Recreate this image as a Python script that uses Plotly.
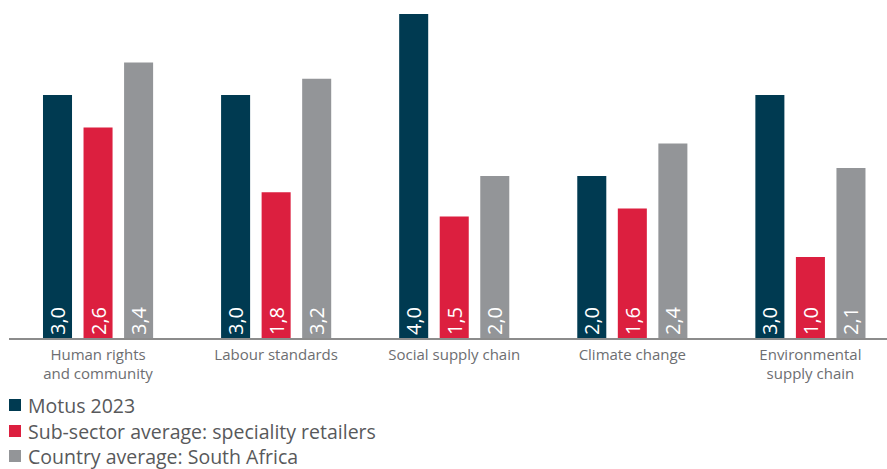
import plotly.graph_objects as go

categories = [
    "Human rights<br>and community",
    "Labour standards",
    "Social supply chain",
    "Climate change",
    "Environmental<br>supply chain",
]
motus_2023 = [3.0, 3.0, 4.0, 2.0, 3.0]
subsector_avg = [2.6, 1.8, 1.5, 1.6, 1.0]
country_avg = [3.4, 3.2, 2.0, 2.4, 2.1]

series_names = [
    "Motus 2023",
    "Sub-sector average: speciality retailers",
    "Country average: South Africa",
]
series_values = [motus_2023, subsector_avg, country_avg]
series_colors = ["#003A51", "#DC1F3F", "#939598"]

FONT = "Open Sans"
W, H = 887, 469
ML, MR, MT, MB = 9, 0, 14, 131

fig = go.Figure()
for name, vals, color in zip(series_names, series_values, series_colors):
    fig.add_trace(go.Bar(
        x=categories,
        y=vals,
        name=name,
        marker=dict(color=color, line=dict(width=0)),
        text=[f"{v:.1f}".replace(".", ",") for v in vals],
        textposition="inside",
        insidetextanchor="start",
        textangle=-90,
        textfont=dict(family=FONT, size=20, color="white"),
        constraintext="none",
        hoverinfo="skip",
        showlegend=False,
    ))

# pixel -> paper helpers for the hand-built legend under the plot
plot_w = W - ML - MR
plot_h = H - MT - MB


def px_x(px):
    return (px - ML) / plot_w


def px_y(py):
    return (H - MB - py) / plot_h


legend_rows = [405, 431, 456]
shapes = []
annotations = []
for name, color, cy in zip(series_names, series_colors, legend_rows):
    shapes.append(dict(
        type="rect", xref="paper", yref="paper",
        x0=px_x(9), x1=px_x(21), y0=px_y(cy + 6), y1=px_y(cy - 6),
        fillcolor=color, line=dict(width=0),
    ))
    annotations.append(dict(
        text=name, xref="paper", yref="paper",
        x=px_x(26), y=px_y(cy), xanchor="left", yanchor="middle",
        showarrow=False,
        font=dict(family=FONT, size=19.5, color="#58595B"),
    ))

fig.update_layout(
    width=W,
    height=H,
    margin=dict(l=ML, r=MR, t=MT, b=MB, autoexpand=False),
    paper_bgcolor="white",
    plot_bgcolor="white",
    barmode="group",
    bargap=0.317,
    bargroupgap=0.284,
    font=dict(family=FONT, color="#58595B"),
    xaxis=dict(
        range=[-0.5, 4.43],
        showgrid=False,
        showline=True,
        linecolor="#8C8C8C",
        linewidth=1.5,
        ticks="",
        ticklabelstandoff=2,
        tickfont=dict(family=FONT, size=15, color="#6D6E71"),
        fixedrange=True,
    ),
    yaxis=dict(
        range=[0, 4],
        visible=False,
        showgrid=False,
        zeroline=False,
        fixedrange=True,
    ),
    shapes=shapes,
    annotations=annotations,
    showlegend=False,
)

fig.write_html("out.html")
